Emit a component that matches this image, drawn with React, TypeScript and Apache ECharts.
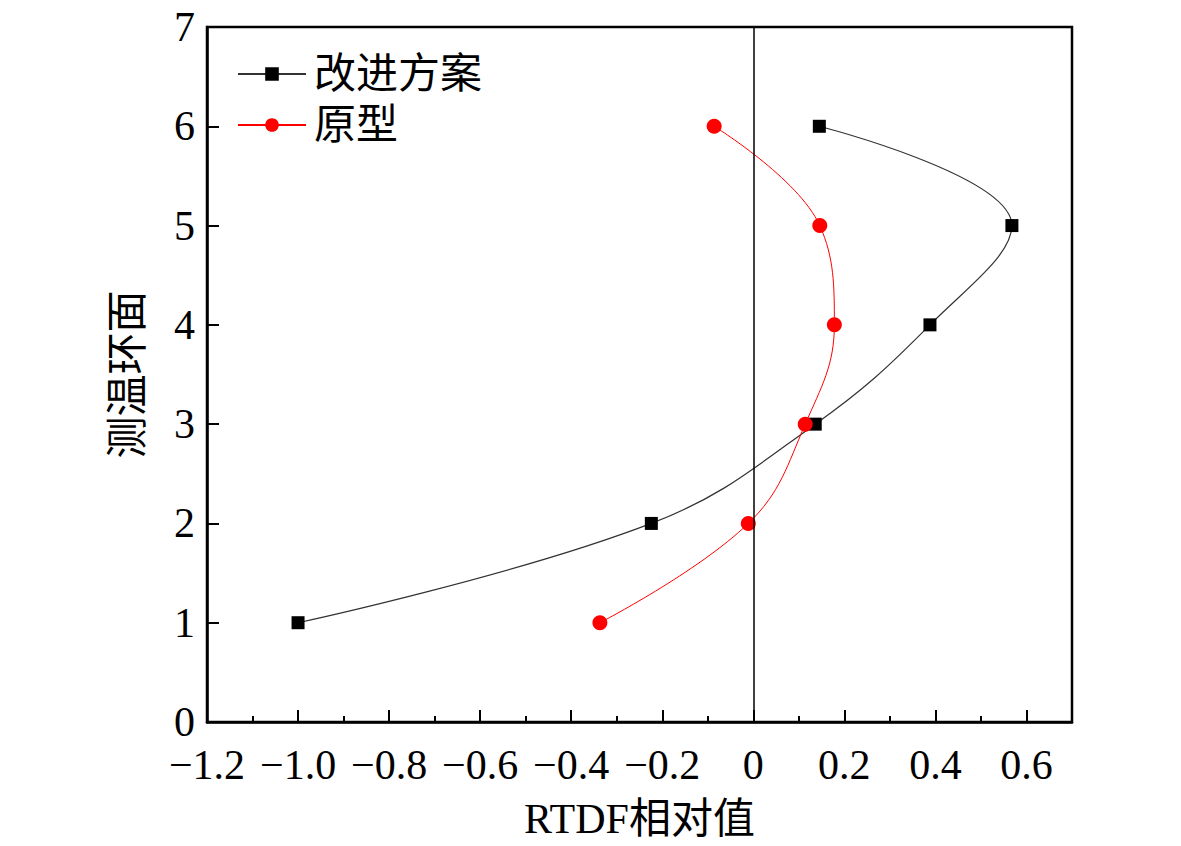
import React, { useEffect, useRef } from "react";
import * as echarts from "echarts";

const rings = [1, 2, 3, 4, 5, 6];
const improved = [-1.0, -0.224, 0.136, 0.388, 0.568, 0.145];
const prototype = [-0.337, -0.011, 0.114, 0.178, 0.146, -0.086];
const seriesNames = ["改进方案", "原型"];
const xTicks = [-1.2, -1.0, -0.8, -0.6, -0.4, -0.2, 0, 0.2, 0.4, 0.6];

const FONT = "'Liberation Serif', 'Times New Roman', 'Noto Sans CJK SC', serif";

function fmtX(v: number): string {
  if (Math.abs(v) < 1e-9) return "0";
  if (v > 0.65) return "";
  return v.toFixed(1).replace("-", "\u2212");
}

export default function App() {
  const ref = useRef<HTMLDivElement>(null);
  useEffect(() => {
    if (!ref.current) return;
    const chart = echarts.init(ref.current, null, { renderer: "svg" });
    const pts = (xs: number[]) => xs.map((x, i) => [x, rings[i]]);
    chart.setOption({
      animation: false,
      backgroundColor: "#ffffff",
      grid: {
        left: 207,
        right: 109,
        top: 27,
        bottom: 124,
        show: true,
        borderColor: "#000",
        borderWidth: 2.5,
        backgroundColor: "transparent",
      },
      legend: {
        orient: "vertical",
        left: 232,
        top: 44,
        itemWidth: 68,
        itemHeight: 17,
        itemGap: 1,
        textStyle: {
          fontFamily: FONT,
          fontSize: 42,
          color: "#000",
          lineHeight: 50,
          padding: [0, 0, 0, 3],
        },
        data: seriesNames,
      },
      xAxis: {
        type: "value",
        min: -1.2,
        max: 0.7,
        interval: 0.2,
        name: "RTDF相对值",
        nameLocation: "middle",
        nameGap: 76,
        nameTextStyle: { fontFamily: FONT, fontSize: 42, color: "#000" },
        axisLine: { show: true, onZero: false, lineStyle: { color: "#000", width: 2.5 } },
        axisTick: { show: true, inside: true, length: 12, lineStyle: { color: "#000", width: 2 }, customValues: xTicks },
        minorTick: { show: true, splitNumber: 2, length: 6, lineStyle: { color: "#000", width: 2 } },
        axisLabel: {
          fontFamily: FONT,
          fontSize: 42,
          color: "#000",
          margin: 22,
          formatter: (v: number) => fmtX(v),
        },
        splitLine: { show: false },
      },
      yAxis: {
        type: "value",
        min: 0,
        max: 7,
        interval: 1,
        name: "测温环面",
        nameLocation: "middle",
        nameGap: 58,
        nameRotate: 90,
        nameTextStyle: { fontFamily: FONT, fontSize: 42, color: "#000" },
        axisLine: { show: true, onZero: false, lineStyle: { color: "#000", width: 2.5 } },
        axisTick: { show: true, inside: true, length: 12, lineStyle: { color: "#000", width: 2 } },
        axisLabel: { fontFamily: FONT, fontSize: 42, color: "#000", margin: 12 },
        splitLine: { show: false },
      },
      series: [
        {
          name: seriesNames[0],
          type: "line",
          data: pts(improved),
          smooth: 0.4,
          symbol: "rect",
          symbolSize: 13,
          itemStyle: { color: "#000" },
          lineStyle: { color: "#333", width: 1.2 },
          z: 3,
          markLine: {
            silent: true,
            symbol: "none",
            label: { show: false },
            lineStyle: { color: "#000", width: 1.5, type: "solid" },
            data: [{ xAxis: 0 }],
          },
        },
        {
          name: seriesNames[1],
          type: "line",
          data: pts(prototype),
          smooth: 0.4,
          symbol: "circle",
          symbolSize: 15,
          itemStyle: { color: "#ff0000" },
          lineStyle: { color: "#ff0000", width: 1 },
          z: 4,
        },
      ],
    });
    return () => chart.dispose();
  }, []);
  return (
    <div
      ref={ref}
      style={{ position: "fixed", left: 0, top: 0, width: 1181, height: 846, background: "#fff" }}
    />
  );
}
